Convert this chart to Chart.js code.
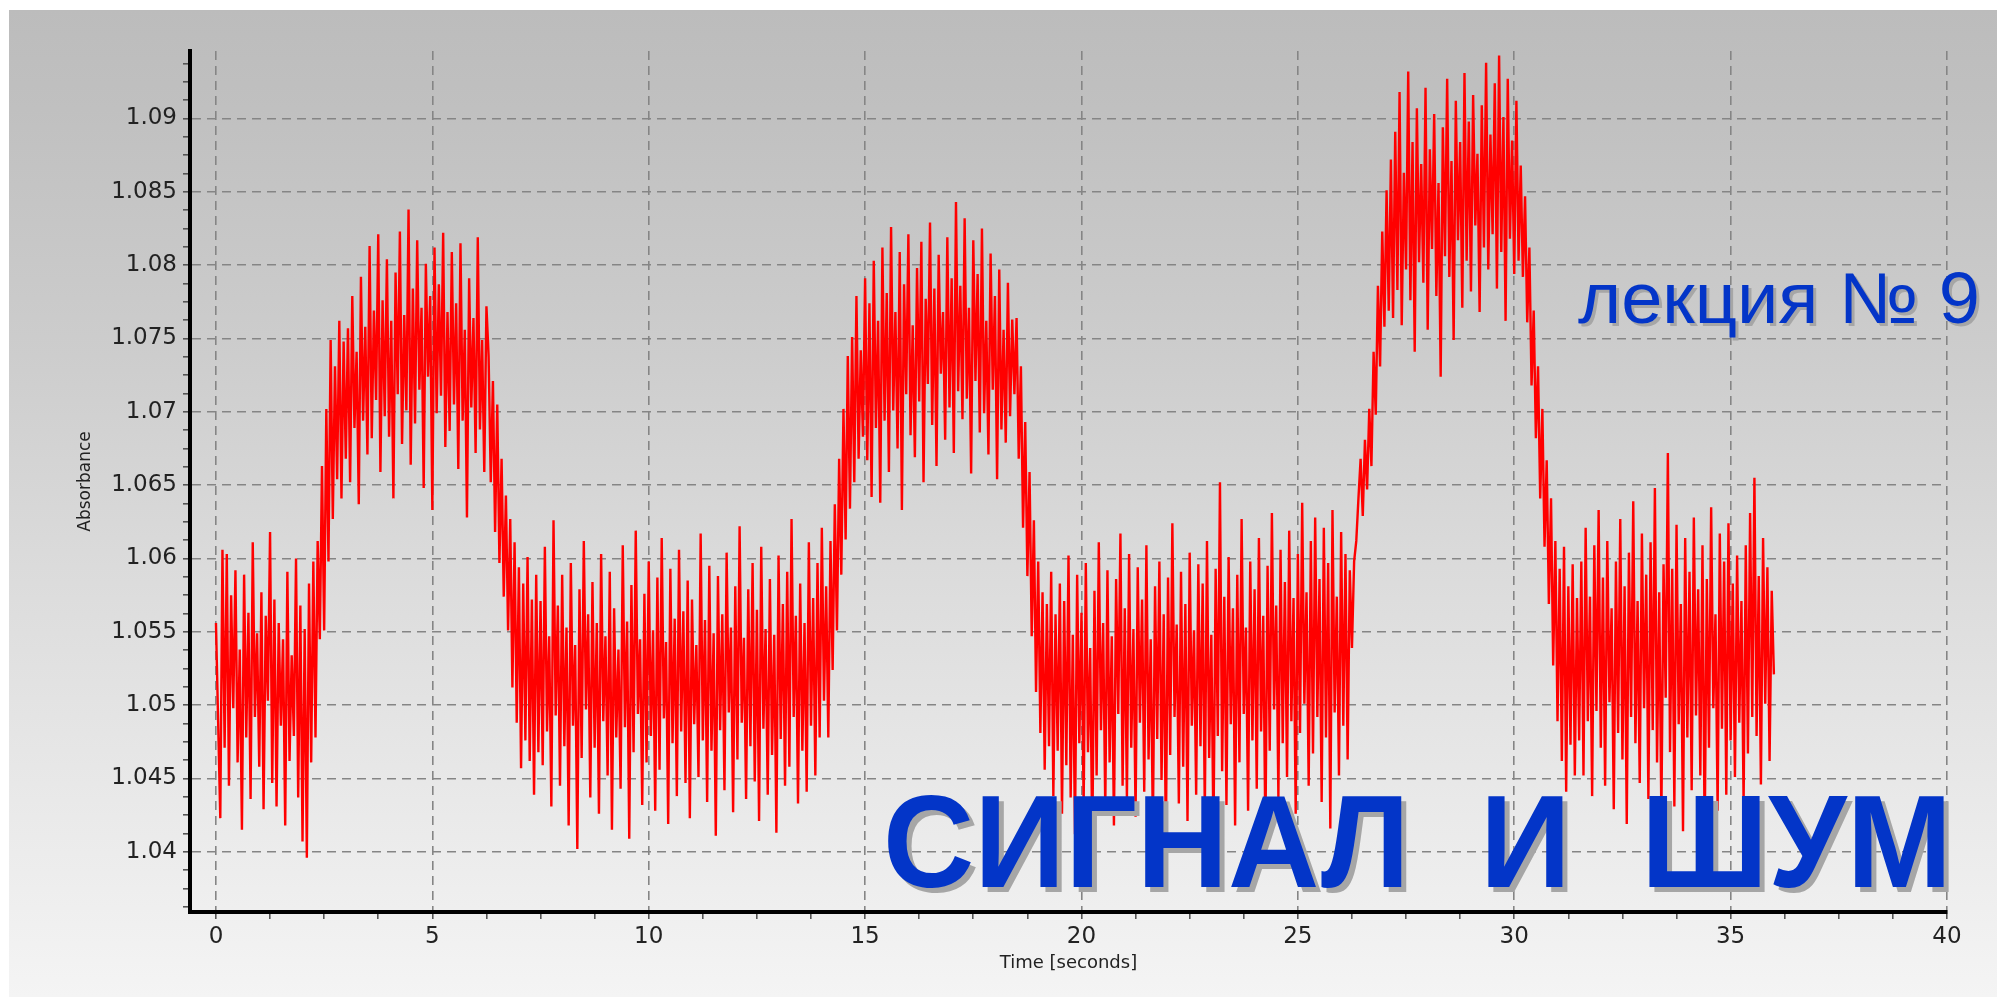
<!DOCTYPE html>
<html>
<head>
<meta charset="utf-8">
<title>Сигнал и шум</title>
<script src="https://cdn.jsdelivr.net/npm/chart.js@4.4.1/dist/chart.umd.min.js"></script>
<style>
  html, body { margin: 0; padding: 0; background: #fff; }
  #wrap { position: relative; width: 1997px; height: 997px; overflow: hidden; }
  #bg {
    position: absolute; left: 9px; top: 10px; right: 0; bottom: 0;
    background: linear-gradient(to bottom, #bcbcbc 0%, #c0c0c0 10%, #cdcdcd 35%, #dcdcdc 58%, #e9e9e9 80%, #f4f4f4 100%);
  }
  canvas { position: absolute; left: 0; top: 0; }
</style>
</head>
<body>
<div id="wrap">
  <div id="bg"></div>
  <canvas id="chart" width="1997" height="997"></canvas>
</div>
<script>
// sampling interval of the recorder, seconds
const SAMPLE_DT = 0.05;

// start time of each stretch of the record
const segmentStart = [0, 2.25, 3.0, 6.3, 7.5, 14.1, 15.0, 18.45, 19.5, 26.25, 27.15, 30.15, 31.5];

// absorbance readings
const baseline1 = [
  1.0556, 1.0489, 1.0423, 1.0606, 1.0471, 1.0603, 1.0445, 1.0575, 1.0498, 1.0592,
  1.0461, 1.0538, 1.0415, 1.0589, 1.0478, 1.0563, 1.0436, 1.0611, 1.0492, 1.0549,
  1.0458, 1.0577, 1.0429, 1.0561, 1.0503, 1.0618, 1.0447, 1.0572, 1.0431, 1.0556,
  1.0486, 1.0545, 1.0418, 1.0591, 1.0462, 1.0534, 1.0479, 1.0600, 1.0437, 1.0568,
  1.0407, 1.0552, 1.0396, 1.0583, 1.0461
];
const rise1 = [
  1.0598, 1.0478, 1.0612, 1.0545, 1.0663, 1.0551, 1.0702, 1.0598, 1.0749, 1.0627,
  1.0731, 1.0654, 1.0762, 1.0641, 1.0748
];
const plateau1 = [
  1.0668, 1.0757, 1.0652, 1.0779, 1.0689, 1.0741, 1.0637, 1.0792, 1.0694, 1.0758,
  1.0671, 1.0813, 1.0682, 1.0769, 1.0708, 1.0821, 1.0659, 1.0776, 1.0697, 1.0804,
  1.0683, 1.0762, 1.0641, 1.0795, 1.0712, 1.0823, 1.0678, 1.0766, 1.0701, 1.0838,
  1.0664, 1.0784, 1.0692, 1.0817, 1.0715, 1.0771, 1.0648, 1.0801, 1.0724, 1.0779,
  1.0633, 1.0812, 1.0699, 1.0787, 1.0711, 1.0822, 1.0676, 1.0768, 1.0687, 1.0809,
  1.0705, 1.0774, 1.0661, 1.0815, 1.0694, 1.0756, 1.0628, 1.0791, 1.0703, 1.0764,
  1.0672, 1.0819, 1.0688, 1.0749, 1.0659, 1.0772
];
const fall1 = [
  1.0738, 1.0652, 1.0721, 1.0618, 1.0705, 1.0597, 1.0668, 1.0574, 1.0643, 1.0551,
  1.0627, 1.0512, 1.0611, 1.0488, 1.0594, 1.0457, 1.0583, 1.0476, 1.0601, 1.0462,
  1.0572, 1.0439, 1.0589, 1.0468
];
const baseline2 = [
  1.0571, 1.0459, 1.0608, 1.0482, 1.0547, 1.0431, 1.0626, 1.0493, 1.0568, 1.0445, 1.0589, 1.0472,
  1.0553, 1.0418, 1.0597, 1.0486, 1.0541, 1.0402, 1.0579, 1.0464, 1.0612, 1.0497, 1.0562, 1.0437,
  1.0584, 1.0471, 1.0556, 1.0426, 1.0603, 1.0489, 1.0547, 1.0452, 1.0591, 1.0415, 1.0566, 1.0478,
  1.0538, 1.0443, 1.0609, 1.0485, 1.0557, 1.0409, 1.0582, 1.0468, 1.0619, 1.0494, 1.0545, 1.0432,
  1.0576, 1.0461, 1.0598, 1.0479, 1.0551, 1.0428, 1.0587, 1.0456, 1.0614, 1.0491, 1.0543, 1.0419,
  1.0593, 1.0474, 1.0559, 1.0438, 1.0606, 1.0482, 1.0564, 1.0447, 1.0585, 1.0423, 1.0572, 1.0487,
  1.0541, 1.0451, 1.0617, 1.0476, 1.0558, 1.0434, 1.0595, 1.0469, 1.0549, 1.0411, 1.0588, 1.0483,
  1.0562, 1.0442, 1.0604, 1.0495, 1.0553, 1.0427, 1.0581, 1.0463, 1.0622, 1.0488, 1.0546, 1.0436,
  1.0579, 1.0472, 1.0597, 1.0448, 1.0565, 1.0421, 1.0608, 1.0484, 1.0552, 1.0439, 1.0586, 1.0466,
  1.0548, 1.0413, 1.0602, 1.0477, 1.0569, 1.0445, 1.0591, 1.0458, 1.0627, 1.0492, 1.0561, 1.0433,
  1.0583, 1.0469, 1.0556, 1.0441, 1.0611, 1.0486, 1.0573, 1.0452, 1.0597, 1.0478, 1.0621, 1.0503
];
const rise2 = [
  1.0581, 1.0478, 1.0612, 1.0524, 1.0637, 1.0551, 1.0668, 1.0589, 1.0702, 1.0613,
  1.0738, 1.0634, 1.0751, 1.0652, 1.0779, 1.0668, 1.0742, 1.0683
];
const plateau2 = [
  1.0791, 1.0667, 1.0774, 1.0642, 1.0803, 1.0689, 1.0762, 1.0638, 1.0812, 1.0694,
  1.0781, 1.0659, 1.0826, 1.0701, 1.0768, 1.0675, 1.0809, 1.0633, 1.0787, 1.0712,
  1.0821, 1.0684, 1.0759, 1.0669, 1.0798, 1.0707, 1.0816, 1.0652, 1.0777, 1.0719,
  1.0829, 1.0691, 1.0784, 1.0663, 1.0807, 1.0726, 1.0768, 1.0681, 1.0819, 1.0703,
  1.0791, 1.0672, 1.0843, 1.0714, 1.0786, 1.0695, 1.0832, 1.0709, 1.0771, 1.0658,
  1.0817, 1.0721, 1.0794, 1.0686, 1.0825, 1.0699, 1.0762, 1.0671, 1.0808, 1.0715,
  1.0779, 1.0654, 1.0797, 1.0688, 1.0756, 1.0679, 1.0788, 1.0697, 1.0763
];
const fall2 = [
  1.0712, 1.0764, 1.0668, 1.0731, 1.0621, 1.0693, 1.0588, 1.0659, 1.0547, 1.0626,
  1.0509, 1.0598, 1.0481, 1.0577, 1.0456, 1.0569, 1.0472, 1.0591, 1.0438, 1.0562,
  1.0469
];
const baseline3 = [
  1.0583, 1.0426, 1.0571, 1.0459, 1.0602, 1.0437, 1.0548, 1.0412, 1.0589, 1.0474, 1.0563, 1.0431, 1.0597, 1.0468, 1.0539,
  1.0405, 1.0578, 1.0452, 1.0611, 1.0483, 1.0556, 1.0429, 1.0592, 1.0461, 1.0547, 1.0418, 1.0586, 1.0494, 1.0617, 1.0445,
  1.0566, 1.0436, 1.0603, 1.0471, 1.0552, 1.0424, 1.0594, 1.0488, 1.0572, 1.0441, 1.0609, 1.0463, 1.0545, 1.0416, 1.0581,
  1.0477, 1.0598, 1.0449, 1.0562, 1.0408, 1.0587, 1.0466, 1.0624, 1.0492, 1.0555, 1.0433, 1.0591, 1.0458, 1.0569, 1.0421,
  1.0604, 1.0486, 1.0551, 1.0439, 1.0596, 1.0472, 1.0583, 1.0427, 1.0612, 1.0464, 1.0548, 1.0411, 1.0593, 1.0479, 1.0652,
  1.0455, 1.0574, 1.0432, 1.0601, 1.0487, 1.0566, 1.0418, 1.0589, 1.0461, 1.0627, 1.0494, 1.0553, 1.0428, 1.0598, 1.0476,
  1.0579, 1.0443, 1.0614, 1.0482, 1.0561, 1.0409, 1.0595, 1.0469, 1.0631, 1.0497, 1.0568, 1.0437, 1.0606, 1.0474, 1.0584,
  1.0451, 1.0619, 1.0489, 1.0573, 1.0426, 1.0603, 1.0481, 1.0638, 1.0501, 1.0577, 1.0445, 1.0612, 1.0467, 1.0628, 1.0492,
  1.0586, 1.0434, 1.0621, 1.0478, 1.0597, 1.0416, 1.0633, 1.0495, 1.0574, 1.0452, 1.0618, 1.0486, 1.0603, 1.0463, 1.0592
];
const rise3 = [
  1.0539, 1.0598, 1.0612, 1.0641, 1.0668, 1.0629, 1.0681, 1.0647, 1.0702, 1.0663,
  1.0741, 1.0698, 1.0786, 1.0731, 1.0823, 1.0758, 1.0851, 1.0769
];
const plateau3 = [
  1.0872, 1.0764, 1.0891, 1.0783, 1.0918, 1.0759, 1.0863, 1.0797, 1.0932, 1.0776,
  1.0884, 1.0741, 1.0907, 1.0802, 1.0869, 1.0788, 1.0921, 1.0756, 1.0879, 1.0811,
  1.0903, 1.0779, 1.0856, 1.0724, 1.0894, 1.0806, 1.0927, 1.0792, 1.0871, 1.0749,
  1.0912, 1.0817, 1.0884, 1.0771, 1.0931, 1.0803, 1.0898, 1.0782, 1.0916, 1.0827,
  1.0876, 1.0768, 1.0909, 1.0812, 1.0938, 1.0797, 1.0889, 1.0821, 1.0924, 1.0784,
  1.0943, 1.0809, 1.0901, 1.0762, 1.0927, 1.0818, 1.0885, 1.0794, 1.0912, 1.0803
];
const fall3 = [
  1.0868, 1.0792, 1.0847, 1.0761, 1.0812, 1.0718, 1.0769, 1.0682, 1.0731, 1.0641,
  1.0702, 1.0608, 1.0667, 1.0569, 1.0641, 1.0527, 1.0612, 1.0489, 1.0593, 1.0462,
  1.0608, 1.0441, 1.0581, 1.0473, 1.0596, 1.0452, 1.0573
];
const baseline4 = [
  1.0476, 1.0598, 1.0452, 1.0621, 1.0489, 1.0574, 1.0438, 1.0609, 1.0496, 1.0633, 1.0471, 1.0587, 1.0445,
  1.0612, 1.0502, 1.0566, 1.0429, 1.0598, 1.0481, 1.0627, 1.0463, 1.0581, 1.0419, 1.0604, 1.0492, 1.0639,
  1.0474, 1.0571, 1.0447, 1.0617, 1.0498, 1.0589, 1.0436, 1.0611, 1.0483, 1.0648, 1.0461, 1.0577, 1.0424,
  1.0596, 1.0505, 1.0672, 1.0468, 1.0593, 1.0431, 1.0623, 1.0487, 1.0569, 1.0414, 1.0614, 1.0478, 1.0591,
  1.0442, 1.0628, 1.0493, 1.0579, 1.0452, 1.0609, 1.0407, 1.0586, 1.0471, 1.0635, 1.0498, 1.0562, 1.0428,
  1.0617, 1.0484, 1.0598, 1.0439, 1.0624, 1.0476, 1.0583, 1.0451, 1.0602, 1.0488, 1.0571, 1.0433, 1.0609,
  1.0467, 1.0631, 1.0492, 1.0655, 1.0479, 1.0588, 1.0446, 1.0614, 1.0501, 1.0594, 1.0462, 1.0578, 1.0521
];

const segments = [baseline1, rise1, plateau1, fall1, baseline2, rise2, plateau2, fall2,
                  baseline3, rise3, plateau3, fall3, baseline4];

// axis settings
const X_MIN = -0.6, X_MAX = 40, X_MAJOR = 5, X_MINOR = 1.25;
const Y_MIN = 1.0359, Y_MAX = 1.0946, Y_MAJOR = 0.005, Y_MINOR = 0.00125;

const LECTURE_TEXT = "лекция № 9";
const TITLE_TEXT = "СИГНАЛ  И  ШУМ";

const points = [];
segments.forEach((vals, s) => {
  vals.forEach((y, j) => points.push({ x: segmentStart[s] + j * SAMPLE_DT, y }));
});

function isMajor(v, step) {
  const k = v / step;
  return Math.abs(k - Math.round(k)) < 1e-6;
}

// draws a string squeezed/stretched to a given width, with a grey drop shadow
function drawBanner(ctx, text, font, left, baseline, width, shadow) {
  ctx.save();
  ctx.font = font;
  ctx.textBaseline = "alphabetic";
  ctx.textAlign = "left";
  const sx = width / ctx.measureText(text).width;
  ctx.translate(left, baseline);
  ctx.scale(sx, 1);
  ctx.fillStyle = "#a6a6a6";
  ctx.fillText(text, shadow / sx, shadow);
  ctx.fillStyle = "#0335c8";
  ctx.fillText(text, 0, 0);
  ctx.restore();
}

const bannerPlugin = {
  id: "banner",
  afterDraw(chart) {
    const ctx = chart.ctx;
    drawBanner(ctx, LECTURE_TEXT, "72px 'Liberation Sans'", 1578, 323, 402, 3);
    drawBanner(ctx, TITLE_TEXT, "bold 131px 'Liberation Sans'", 883, 887, 1069, 5);
  }
};

Chart.defaults.font.family = "'DejaVu Sans'";
Chart.defaults.color = "#222";

new Chart(document.getElementById("chart"), {
  type: "line",
  data: {
    datasets: [{
      data: points,
      borderColor: "#ff0000",
      borderWidth: 2.4,
      pointRadius: 0,
      tension: 0,
      fill: false
    }]
  },
  options: {
    responsive: false,
    animation: false,
    parsing: false,
    normalized: true,
    layout: { padding: { top: 51, right: 50, left: 0, bottom: 0 } },
    plugins: { legend: { display: false }, tooltip: { enabled: false } },
    scales: {
      x: {
        type: "linear",
        min: X_MIN,
        max: X_MAX,
        afterFit(scale) { scale.height = 85; },
        ticks: {
          stepSize: X_MINOR,
          includeBounds: false,
          autoSkip: false,
          maxRotation: 0,
          padding: 4,
          font: { size: 23 },
          color: "#222",
          callback: v => isMajor(v, X_MAJOR) ? String(Math.round(v)) : ""
        },
        grid: {
          color: c => isMajor(c.tick.value, X_MAJOR) ? "#858585" : "rgba(0,0,0,0)",
          lineWidth: 1.6,
          tickLength: 7,
          tickColor: "#555",
          tickWidth: 1.6
        },
        border: { display: true, color: "#000", width: 4, dash: [9, 6] },
        title: {
          display: true,
          text: "Time [seconds]",
          font: { size: 18 },
          color: "#222",
          padding: { top: 0, bottom: 23 }
        }
      },
      y: {
        type: "linear",
        min: Y_MIN,
        max: Y_MAX,
        afterFit(scale) { scale.width = 190; },
        ticks: {
          stepSize: Y_MINOR,
          includeBounds: false,
          autoSkip: false,
          padding: 6,
          font: { size: 23 },
          color: "#222",
          callback: v => isMajor(v, Y_MAJOR) ? String(parseFloat(v.toFixed(3))) : ""
        },
        grid: {
          color: c => isMajor(c.tick.value, Y_MAJOR) ? "#858585" : "rgba(0,0,0,0)",
          lineWidth: 1.6,
          tickLength: 7,
          tickColor: "#555",
          tickWidth: 1.6
        },
        border: { display: true, color: "#000", width: 4, dash: [9, 6] },
        title: {
          display: true,
          text: "Absorbance",
          font: { size: 17 },
          color: "#222",
          padding: { top: 75, bottom: 0 }
        }
      }
    }
  },
  plugins: [bannerPlugin]
});
</script>
</body>
</html>
